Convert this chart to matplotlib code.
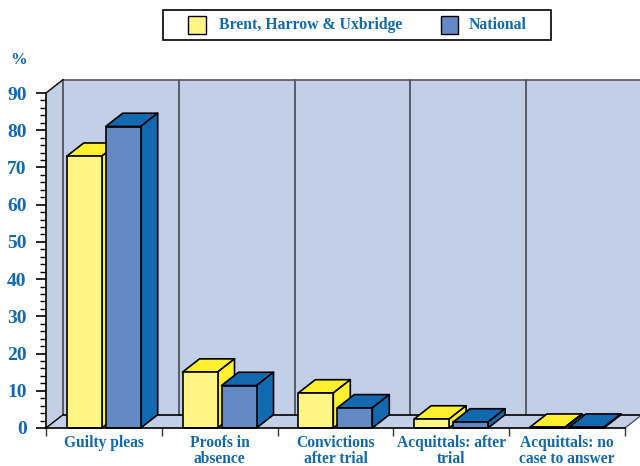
import matplotlib
matplotlib.use("Agg")
import matplotlib.pyplot as plt
from matplotlib.patches import Polygon, Rectangle
from matplotlib.ticker import MultipleLocator

categories = ["Guilty pleas", "Proofs in\nabsence", "Convictions\nafter trial",
              "Acquittals: after\ntrial", "Acquittals: no\ncase to answer"]
brent = [73, 15, 9.4, 2.4, 0.2]
national = [81, 11.4, 5.4, 1.6, 0.2]
series_names = ["Brent, Harrow & Uxbridge", "National"]

BLUE = "#1269b0"
WALL = "#c3cfe6"
W, H = 640, 466

plt.rcParams["font.family"] = ["Liberation Serif", "DejaVu Serif"]
plt.rcParams["font.weight"] = "bold"

fig = plt.figure(figsize=(W / 100, H / 100), dpi=100)
ax = fig.add_axes([46 / W, 1 - 428 / H, 579 / W, 335 / H])
ax.set_xlim(0, 5)
ax.set_ylim(0, 90)
ax.patch.set_visible(False)

# depth of the fake 3d box, in data units
dx = 17 / 115.8
dy = 13.3 / 3.722
bar_w = 35 / 115.8
bar_off = 20.7 / 115.8
bar_gap = 39 / 115.8


def poly(pts, fc, ec="black", lw=1.2, z=2):
    ax.add_patch(Polygon(pts, closed=True, fc=fc, ec=ec, lw=lw, zorder=z,
                         clip_on=False, joinstyle="round"))


def bar3d(x, v, front, top, z):
    poly([(x, v), (x + bar_w, v), (x + bar_w + dx, v + dy), (x + dx, v + dy)], top, z=z)
    poly([(x + bar_w, 0), (x + bar_w + dx, dy), (x + bar_w + dx, v + dy), (x + bar_w, v)], top, z=z)
    poly([(x, 0), (x + bar_w, 0), (x + bar_w, v), (x, v)], front, z=z)


# walls and floor
poly([(dx, dy), (5 + dx, dy), (5 + dx, 90 + dy), (dx, 90 + dy)], WALL, ec="none", lw=0, z=0)
poly([(0, 0), (dx, dy), (dx, 90 + dy), (0, 90)], WALL, ec="none", lw=0, z=0)
poly([(0, 0), (5, 0), (5 + dx, dy), (dx, dy)], WALL, ec="none", lw=0, z=0)
for i in range(5):
    ax.plot([i + dx, i + dx], [dy, 90 + dy], color="#3c3c46", lw=1.1, zorder=1, clip_on=False)
ax.plot([dx, 5 + dx], [90 + dy, 90 + dy], color="#55555f", lw=1.2, zorder=1, clip_on=False)
ax.plot([dx, 5 + dx], [dy, dy], color="black", lw=1.2, zorder=1, clip_on=False)
ax.plot([0, dx], [0, dy], color="black", lw=1.0, zorder=1, clip_on=False)
ax.plot([5, 5 + dx], [0, dy], color="#55555f", lw=1.0, zorder=1, clip_on=False)
ax.plot([0, dx], [90, 90 + dy], color="black", lw=1.0, zorder=1, clip_on=False)

for i in range(len(categories)):
    bar3d(i + bar_off, brent[i], "#fff585", "#fff02f", 2 + i * 2)
    bar3d(i + bar_off + bar_gap, national[i], "#6589c5", BLUE, 3 + i * 2)

for s in ["top", "right"]:
    ax.spines[s].set_visible(False)
ax.spines["left"].set_linewidth(1.2)
ax.spines["bottom"].set_linewidth(1.2)
ax.spines["left"].set_zorder(20)
ax.spines["bottom"].set_zorder(20)

ax.yaxis.set_major_locator(MultipleLocator(10))
ax.yaxis.set_minor_locator(MultipleLocator(2))
ax.tick_params(axis="y", which="major", length=7, width=1.2, pad=7,
               labelsize=14, labelcolor=BLUE)
ax.tick_params(axis="y", which="minor", length=4, width=1.0)
ax.set_xticks(range(6))
ax.set_xticklabels([])
ax.tick_params(axis="x", which="major", length=5.5, width=1.0, color="#333333")
ax.set_xticks([i + 0.5 for i in range(5)], categories, minor=True)
ax.tick_params(axis="x", which="minor", length=0, pad=5, labelsize=11.2,
               labelcolor=BLUE)
for lab in ax.get_xticklabels(minor=True):
    lab.set_linespacing(1.0)

fig.text(19 / W, 1 - 60 / H, "%", color=BLUE, fontsize=12, ha="center", va="center")

# legend box
fig.add_artist(Rectangle((163 / W, 1 - 40 / H), 388 / W, 30 / H, fc="white", ec="black",
                         lw=1.2, transform=fig.transFigure))
fig.add_artist(Rectangle((188 / W, 1 - 34 / H), 18 / W, 18 / H, fc="#fff585", ec="black",
                         lw=1.0, transform=fig.transFigure))
fig.add_artist(Rectangle((441 / W, 1 - 34 / H), 17 / W, 18 / H, fc="#6589c5", ec="black",
                         lw=1.0, transform=fig.transFigure))
fig.text(219 / W, 1 - 25 / H, series_names[0], color=BLUE, fontsize=11.3, va="center")
fig.text(469 / W, 1 - 25 / H, series_names[1], color=BLUE, fontsize=11.3, va="center")

fig.savefig("out.png", dpi=100)
